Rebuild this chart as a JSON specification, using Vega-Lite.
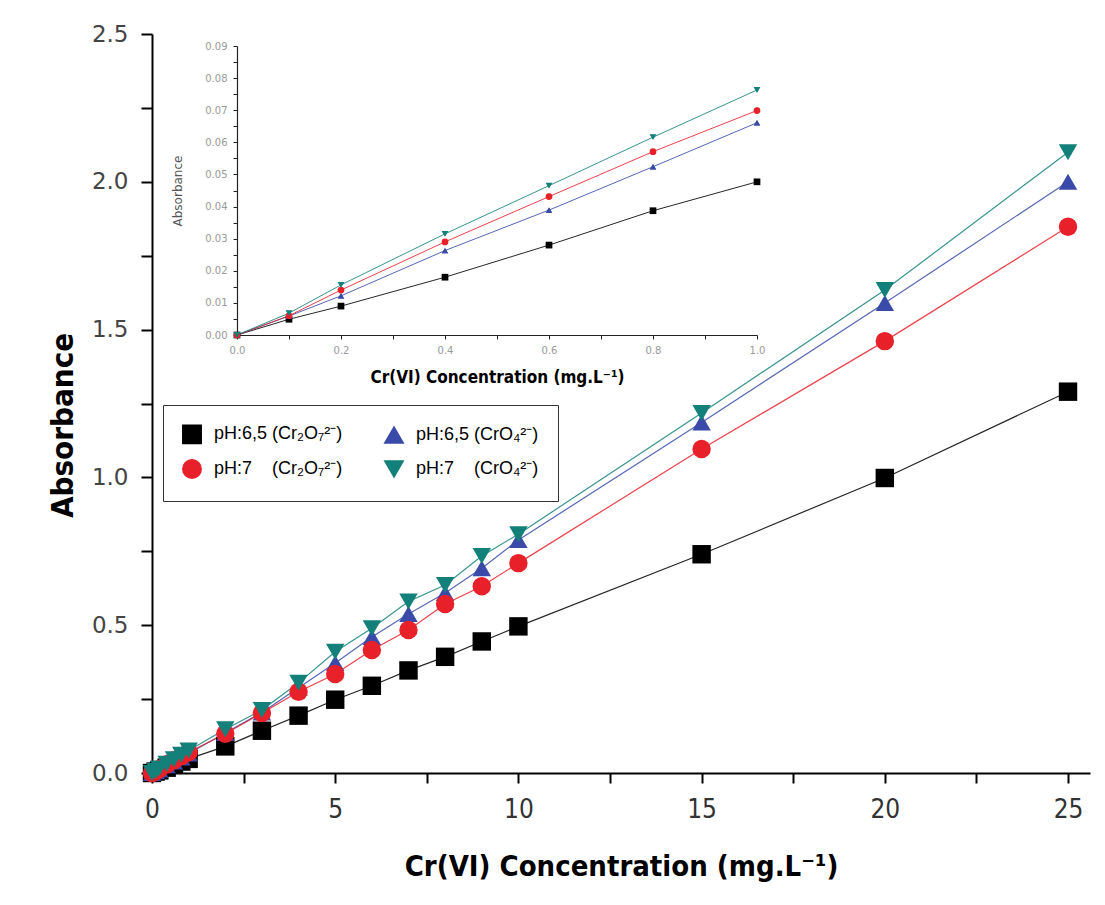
{
  "$schema": "https://vega.github.io/schema/vega-lite/v6.json",
  "width": 938,
  "height": 739,
  "autosize": "none",
  "padding": {"left": 152, "top": 34, "right": 15, "bottom": 132},
  "background": "white",
  "config": {"view": {"stroke": null}, "axis": {"grid": false},
    "legend": {"orient": "none", "legendX": 11, "legendY": 371, "columns": 2, "padding": 19,
      "strokeColor": "#333", "fillColor": "white",
      "labelFont": "Liberation Sans", "labelFontSize": 18, "labelColor": "#000", "labelOffset": 12, "labelLimit": 300,
      "symbolSize": 340, "symbolOpacity": 1, "columnPadding": 38, "rowPadding": 9}},
  "data": {"values": [
    {"s": "A", "c": 0, "a": 0}, {"s": "A", "c": 0.1, "a": 0.0049}, {"s": "A", "c": 0.2, "a": 0.009}, {"s": "A", "c": 0.4, "a": 0.018}, {"s": "A", "c": 0.6, "a": 0.028}, {"s": "A", "c": 0.8, "a": 0.0387}, {"s": "A", "c": 1, "a": 0.0477},
    {"s": "A", "c": 2, "a": 0.09}, {"s": "A", "c": 3, "a": 0.143}, {"s": "A", "c": 4, "a": 0.194}, {"s": "A", "c": 5, "a": 0.248}, {"s": "A", "c": 6, "a": 0.295}, {"s": "A", "c": 7, "a": 0.347}, {"s": "A", "c": 8, "a": 0.393}, {"s": "A", "c": 9, "a": 0.445}, {"s": "A", "c": 10, "a": 0.496}, {"s": "A", "c": 15, "a": 0.74}, {"s": "A", "c": 20, "a": 0.998}, {"s": "A", "c": 25, "a": 1.29},
    {"s": "B", "c": 0, "a": 0}, {"s": "B", "c": 0.1, "a": 0.0059}, {"s": "B", "c": 0.2, "a": 0.0122}, {"s": "B", "c": 0.4, "a": 0.0263}, {"s": "B", "c": 0.6, "a": 0.0389}, {"s": "B", "c": 0.8, "a": 0.0524}, {"s": "B", "c": 1, "a": 0.0661},
    {"s": "B", "c": 2, "a": 0.135}, {"s": "B", "c": 3, "a": 0.205}, {"s": "B", "c": 4, "a": 0.288}, {"s": "B", "c": 5, "a": 0.372}, {"s": "B", "c": 6, "a": 0.46}, {"s": "B", "c": 7, "a": 0.538}, {"s": "B", "c": 8, "a": 0.609}, {"s": "B", "c": 9, "a": 0.693}, {"s": "B", "c": 10, "a": 0.788}, {"s": "B", "c": 15, "a": 1.186}, {"s": "B", "c": 20, "a": 1.59}, {"s": "B", "c": 25, "a": 2.0},
    {"s": "C", "c": 0, "a": 0}, {"s": "C", "c": 0.1, "a": 0.006}, {"s": "C", "c": 0.2, "a": 0.014}, {"s": "C", "c": 0.4, "a": 0.029}, {"s": "C", "c": 0.6, "a": 0.0431}, {"s": "C", "c": 0.8, "a": 0.0571}, {"s": "C", "c": 1, "a": 0.0699},
    {"s": "C", "c": 2, "a": 0.133}, {"s": "C", "c": 3, "a": 0.203}, {"s": "C", "c": 4, "a": 0.275}, {"s": "C", "c": 5, "a": 0.335}, {"s": "C", "c": 6, "a": 0.416}, {"s": "C", "c": 7, "a": 0.484}, {"s": "C", "c": 8, "a": 0.572}, {"s": "C", "c": 9, "a": 0.632}, {"s": "C", "c": 10, "a": 0.71}, {"s": "C", "c": 15, "a": 1.096}, {"s": "C", "c": 20, "a": 1.461}, {"s": "C", "c": 25, "a": 1.848},
    {"s": "D", "c": 0, "a": 0}, {"s": "D", "c": 0.1, "a": 0.0068}, {"s": "D", "c": 0.2, "a": 0.0156}, {"s": "D", "c": 0.4, "a": 0.0315}, {"s": "D", "c": 0.6, "a": 0.0465}, {"s": "D", "c": 0.8, "a": 0.0616}, {"s": "D", "c": 1, "a": 0.0763},
    {"s": "D", "c": 2, "a": 0.148}, {"s": "D", "c": 3, "a": 0.213}, {"s": "D", "c": 4, "a": 0.305}, {"s": "D", "c": 5, "a": 0.41}, {"s": "D", "c": 6, "a": 0.49}, {"s": "D", "c": 7, "a": 0.58}, {"s": "D", "c": 8, "a": 0.636}, {"s": "D", "c": 9, "a": 0.734}, {"s": "D", "c": 10, "a": 0.808}, {"s": "D", "c": 15, "a": 1.218}, {"s": "D", "c": 20, "a": 1.634}, {"s": "D", "c": 25, "a": 2.1}
  ]},
  "transform": [
    {"lookup": "s", "from": {"data": {"values": [
      {"s": "A", "label": "pH:6,5 (Cr₂O₇²⁻)"},
      {"s": "B", "label": "pH:6,5 (CrO₄²⁻)"},
      {"s": "C", "label": "pH:7\u00a0\u00a0\u00a0\u00a0(Cr₂O₇²⁻)"},
      {"s": "D", "label": "pH:7\u00a0\u00a0\u00a0\u00a0(CrO₄²⁻)"}
    ]}, "key": "s", "fields": ["label"]}}
  ],
  "encoding": {
    "color": {"field": "label", "type": "nominal", "title": null,
      "scale": {"domain": ["pH:6,5 (Cr₂O₇²⁻)", "pH:7\u00a0\u00a0\u00a0\u00a0(Cr₂O₇²⁻)", "pH:6,5 (CrO₄²⁻)", "pH:7\u00a0\u00a0\u00a0\u00a0(CrO₄²⁻)"], "range": ["#000000", "#e8202a", "#3a4aa8", "#13807a"]}},
    "shape": {"field": "label", "type": "nominal", "title": null,
      "scale": {"domain": ["pH:6,5 (Cr₂O₇²⁻)", "pH:7\u00a0\u00a0\u00a0\u00a0(Cr₂O₇²⁻)", "pH:6,5 (CrO₄²⁻)", "pH:7\u00a0\u00a0\u00a0\u00a0(CrO₄²⁻)"], "range": ["square", "circle", "triangle-up", "triangle-down"]}}
  },
  "layer": [
    {
      "encoding": {
        "x": {"field": "c", "type": "quantitative", "title": "Cr(VI) Concentration (mg.L⁻¹)",
          "scale": {"domain": [0, 25.6], "nice": false, "zero": false},
          "axis": {"orient": "bottom", "values": [0, 2.5, 5, 7.5, 10, 12.5, 15, 17.5, 20, 22.5, 25],
            "labelExpr": "datum.value % 5 === 0 ? datum.label : ''", "labelFlush": false, "labelOverlap": false,
            "domainColor": "#000", "domainWidth": 2, "tickColor": "#000", "tickWidth": 2, "tickSize": 10,
            "labelFont": "DejaVu Sans Condensed, Liberation Sans", "labelFontSize": 26, "labelFontWeight": 300, "labelColor": "#333", "labelPadding": 13,
            "titleFont": "DejaVu Sans Condensed, Liberation Sans", "titleFontSize": 29, "titleFontWeight": "bold", "titleColor": "#000", "titlePadding": 30}},
        "y": {"field": "a", "type": "quantitative", "title": "Absorbance",
          "scale": {"domain": [0, 2.5], "nice": false},
          "axis": {"orient": "left", "values": [0, 0.25, 0.5, 0.75, 1, 1.25, 1.5, 1.75, 2, 2.25, 2.5],
            "labelExpr": "round(datum.value*100) % 50 === 0 ? format(datum.value, '.1f') : ''", "labelOverlap": false,
            "domainColor": "#000", "domainWidth": 2, "tickColor": "#000", "tickWidth": 2, "tickSize": 11,
            "labelFont": "DejaVu Sans", "labelFontSize": 23, "labelColor": "#444", "labelPadding": 13,
            "titleFont": "DejaVu Sans Condensed, Liberation Sans", "titleFontSize": 31, "titleFontWeight": "bold", "titleColor": "#000", "titlePadding": 12, "titleY": 391}}
      },
      "layer": [
        {"mark": {"type": "line", "strokeWidth": 1.2, "opacity": 0.85}},
        {"mark": {"type": "point", "filled": true, "opacity": 1, "size": 340}}
      ]
    },
    {
      "transform": [{"filter": "datum.c <= 1"}],
      "encoding": {
        "x": {"field": "c", "type": "quantitative", "title": "Cr(VI) Concentration (mg.L⁻¹)",
          "scale": {"domain": [0, 1], "nice": false, "range": [85, 605]},
          "axis": {"orient": "bottom", "offset": -438, "values": [0, 0.1, 0.2, 0.3, 0.4, 0.5, 0.6, 0.7, 0.8, 0.9, 1],
            "labelExpr": "round(datum.value*10) % 2 === 0 ? format(datum.value, '.1f') : ''", "labelFlush": false, "labelOverlap": false,
            "domainColor": "#222", "domainWidth": 1.2, "tickColor": "#222", "tickWidth": 1, "tickSize": 4,
            "labelFont": "DejaVu Sans", "labelFontSize": 10, "labelColor": "#999", "labelPadding": 6,
            "titleFont": "DejaVu Sans Condensed, Liberation Sans", "titleFontSize": 17, "titleFontWeight": "bold", "titleColor": "#000", "titlePadding": 14}},
        "y": {"field": "a", "type": "quantitative", "title": "Absorbance",
          "scale": {"domain": [0, 0.09], "nice": false, "range": [301, 12]},
          "axis": {"orient": "left", "offset": -85, "values": [0, 0.005, 0.01, 0.015, 0.02, 0.025, 0.03, 0.035, 0.04, 0.045, 0.05, 0.055, 0.06, 0.065, 0.07, 0.075, 0.08, 0.085, 0.09],
            "labelExpr": "round(datum.value*1000) % 10 === 0 ? format(datum.value, '.2f') : ''", "labelOverlap": false,
            "domainColor": "#222", "domainWidth": 1.2, "tickColor": "#222", "tickWidth": 1, "tickSize": 4,
            "labelFont": "DejaVu Sans", "labelFontSize": 10, "labelColor": "#999", "labelPadding": 6,
            "titleFont": "DejaVu Sans", "titleFontSize": 12, "titleFontWeight": "normal", "titleColor": "#555", "titlePadding": 20}}
      },
      "layer": [
        {"mark": {"type": "line", "strokeWidth": 1, "opacity": 0.85}},
        {"mark": {"type": "point", "filled": true, "opacity": 1, "size": 45}}
      ]
    }
  ],
  "resolve": {"scale": {"x": "independent", "y": "independent"}, "axis": {"x": "independent", "y": "independent"}}
}
